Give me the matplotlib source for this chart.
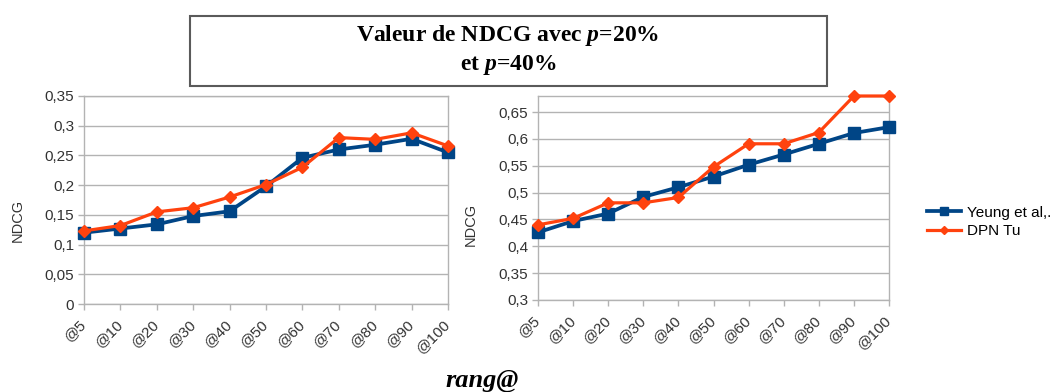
import matplotlib
matplotlib.use("Agg")
import matplotlib.pyplot as plt
from matplotlib.patches import Rectangle
from matplotlib.lines import Line2D
from matplotlib.ticker import FuncFormatter, MultipleLocator

plt.rcParams['font.family'] = ['Liberation Sans', 'DejaVu Sans']
plt.rcParams['mathtext.fontset'] = 'custom'
plt.rcParams['mathtext.rm'] = 'Liberation Serif:bold'
plt.rcParams['mathtext.it'] = 'Liberation Serif:italic:bold'

ranks = ['@5', '@10', '@20', '@30', '@40', '@50', '@60', '@70', '@80', '@90', '@100']

# p = 20%
yeung_p20 = [0.120, 0.127, 0.134, 0.148, 0.156, 0.198, 0.246, 0.260, 0.268, 0.278, 0.255]
dpn_p20 = [0.123, 0.132, 0.155, 0.162, 0.180, 0.201, 0.230, 0.280, 0.277, 0.288, 0.266]

# p = 40%
yeung_p40 = [0.426, 0.447, 0.461, 0.492, 0.510, 0.530, 0.552, 0.571, 0.591, 0.611, 0.622]
dpn_p40 = [0.440, 0.452, 0.481, 0.481, 0.491, 0.548, 0.591, 0.591, 0.612, 0.680, 0.680]

BLUE = '#004586'
ORANGE = '#ff420e'
GRID = '#b3b3b3'
TXT = '#333333'

W, H = 1058, 392
fig = plt.figure(figsize=(W / 100, H / 100), dpi=100)


def px_axes(x0, y0, x1, y1):
    # axes from a pixel box (origin top-left)
    return fig.add_axes([x0 / W, 1 - y1 / H, (x1 - x0) / W, (y1 - y0) / H])


def comma(v, pos):
    s = ('%.2f' % v).rstrip('0').rstrip('.')
    return s.replace('.', ',')


def draw(ax, yeung, dpn, ylim, step):
    x = list(range(len(ranks)))
    ax.plot(x, yeung, color=BLUE, lw=2.7, marker='s', ms=8.5, zorder=3, clip_on=False)
    ax.plot(x, dpn, color=ORANGE, lw=2.3, marker='D', ms=6.5, zorder=4, clip_on=False)
    ax.set_xlim(0, len(ranks) - 1)
    ax.set_ylim(*ylim)
    ax.yaxis.set_major_locator(MultipleLocator(step))
    ax.yaxis.set_major_formatter(FuncFormatter(comma))
    ax.set_xticks(x)
    ax.set_xticklabels(ranks, rotation=45, ha='right', va='center', rotation_mode='anchor')
    ax.grid(axis='y', color=GRID, lw=1)
    ax.set_axisbelow(True)
    for s in ax.spines.values():
        s.set_color(GRID)
        s.set_linewidth(1)
    ax.tick_params(axis='both', colors=GRID, labelcolor=TXT, labelsize=11, length=4, width=1)
    ax.tick_params(axis='y', pad=3)
    ax.tick_params(axis='x', pad=9)
    ax.set_ylabel('NDCG', color=TXT, fontsize=10.5)


ax1 = px_axes(84, 96, 448, 304)
draw(ax1, yeung_p20, dpn_p20, (0, 0.35), 0.05)
ax1.yaxis.set_label_coords(-0.162, 0.4)

ax2 = px_axes(538, 96, 889, 300)
draw(ax2, yeung_p40, dpn_p40, (0.3, 0.68), 0.05)
ax2.yaxis.set_label_coords(-0.171, 0.37)

# title box
fig.patches.append(Rectangle((190 / W, 1 - 86 / H), (827 - 190) / W, 70 / H,
                             transform=fig.transFigure, fill=False,
                             edgecolor='#5a5a5a', lw=1.5))
fig.text(508 / W, 1 - 35 / H, r'Valeur de NDCG avec $p$=20%', ha='center', va='center',
         family='Liberation Serif', weight='bold', fontsize=17, color='black')
fig.text(508 / W, 1 - 65 / H, r'et $p$=40%', ha='center', va='center',
         family='Liberation Serif', weight='bold', fontsize=17, color='black')

fig.text(482 / W, 1 - 387 / H, 'rang@', ha='center', va='baseline',
         family='Liberation Serif', weight='bold', style='italic', fontsize=19)

handles = [Line2D([], [], color=BLUE, lw=2.7, marker='s', ms=6),
           Line2D([], [], color=ORANGE, lw=2.3, marker='D', ms=4.5)]
fig.legend(handles, ['Yeung et al,.', 'DPN Tu'], loc='center left',
           bbox_to_anchor=(927 / W, 1 - 222 / H), frameon=False, fontsize=11,
           handlelength=2.2, handletextpad=0.45, labelspacing=0.3, borderaxespad=0,
           borderpad=0)

fig.savefig('out.png', dpi=100)
